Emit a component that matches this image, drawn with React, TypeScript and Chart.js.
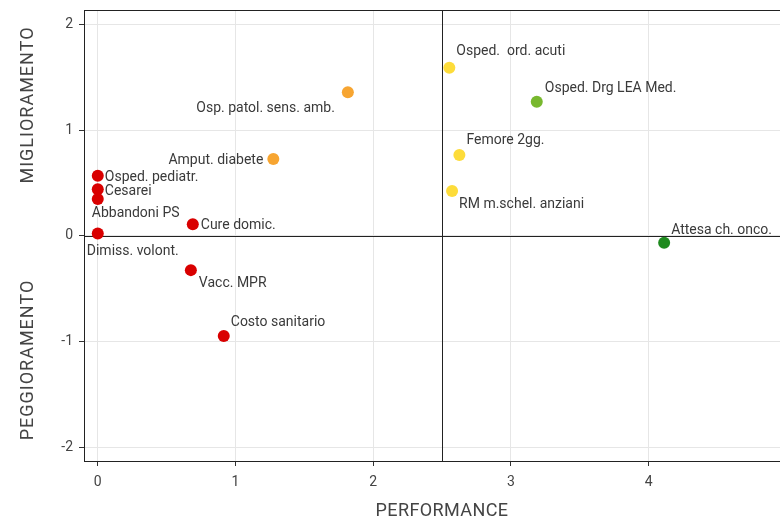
import React, { useEffect, useRef } from "react";
import { Chart, registerables } from "chart.js";

Chart.register(...registerables);

const indicatorNames = [
  "Osped. pediatr.",
  "Cesarei",
  "Abbandoni PS",
  "Dimiss. volont.",
  "Cure domic.",
  "Vacc. MPR",
  "Costo sanitario",
  "Amput. diabete",
  "Osp. patol. sens. amb.",
  "Osped.  ord. acuti",
  "Osped. Drg LEA Med.",
  "Femore 2gg.",
  "RM m.schel. anziani",
  "Attesa ch. onco.",
];
const performanceValues = [0, 0, 0, 0, 0.69, 0.676, 0.915, 1.275, 1.816, 2.553, 3.188, 2.626, 2.573, 4.113];
const trendValues = [0.568, 0.439, 0.347, 0.021, 0.108, -0.325, -0.949, 0.726, 1.357, 1.589, 1.268, 0.763, 0.423, -0.066];
const pointColors = [
  "#d90000", "#d90000", "#d90000", "#d90000", "#d90000", "#d90000", "#d90000",
  "#f7a531", "#f7a531",
  "#fddc3a", "#78b82e", "#fddc3a", "#fddc3a",
  "#1e8a1e",
];
const xTicks = [0, 1, 2, 3, 4];
const yTicks = [-2, -1, 0, 1, 2];
const xThreshold = 2.5;
const yThreshold = 0;
const xTitle = "PERFORMANCE";
const yTitleTop = "MIGLIORAMENTO";
const yTitleBottom = "PEGGIORAMENTO";

// label placement: [dx, dy, align]
const labelPlacement: [number, number, CanvasTextAlign][] = [
  [7, 0, "left"],
  [7, 1, "left"],
  [-6, 13, "left"],
  [-11, 16, "left"],
  [8, 0, "left"],
  [8, 12, "left"],
  [7, -15, "left"],
  [-10, 0, "right"],
  [-13, 15, "right"],
  [7, -18, "left"],
  [8, -15, "left"],
  [7, -16, "left"],
  [7, 12, "left"],
  [7, -14, "left"],
];

const FONT = "Roboto, 'DejaVu Sans', sans-serif";

const quadrantPlugin = {
  id: "quadrant",
  beforeDatasetsDraw(chart: any) {
    const { ctx, chartArea, scales } = chart;
    ctx.save();
    ctx.strokeStyle = "#222";
    ctx.lineWidth = 1;
    const vx = Math.round(scales.x.getPixelForValue(xThreshold)) + 0.5;
    const hy = Math.round(scales.y.getPixelForValue(yThreshold)) + 0.5;
    ctx.beginPath();
    ctx.moveTo(vx, chartArea.top);
    ctx.lineTo(vx, chartArea.bottom);
    ctx.moveTo(chartArea.left, hy);
    ctx.lineTo(chartArea.right, hy);
    ctx.stroke();
    ctx.strokeRect(
      Math.round(chartArea.left) + 0.5,
      Math.round(chartArea.top) + 0.5,
      Math.round(chartArea.right - chartArea.left),
      Math.round(chartArea.bottom - chartArea.top)
    );
    ctx.restore();
  },
  afterDatasetsDraw(chart: any) {
    const { ctx } = chart;
    const meta = chart.getDatasetMeta(0);
    ctx.save();
    ctx.font = `14px ${FONT}`;
    ctx.fillStyle = "#3a3a3a";
    ctx.textBaseline = "middle";
    meta.data.forEach((el: any, i: number) => {
      const [dx, dy, align] = labelPlacement[i];
      ctx.textAlign = align;
      ctx.fillText(indicatorNames[i], el.x + dx, el.y + dy + 1.5);
    });
    ctx.fillStyle = "#444";
    ctx.font = `18px ${FONT}`;
    ctx.textAlign = "center";
    (ctx as any).letterSpacing = "0.4px";
    ctx.fillText(xTitle, 442, 511);
    (ctx as any).letterSpacing = "1px";
    ctx.save();
    ctx.translate(28, 105);
    ctx.rotate(-Math.PI / 2);
    ctx.fillText(yTitleTop, 0, 0);
    ctx.restore();
    ctx.save();
    ctx.translate(28, 360);
    ctx.rotate(-Math.PI / 2);
    ctx.fillText(yTitleBottom, 0, 0);
    ctx.restore();
    (ctx as any).letterSpacing = "0px";
    ctx.restore();
  },
};

const zeroPadding = (s: any) => {
  s.paddingTop = 0;
  s.paddingBottom = 0;
  s.paddingLeft = 0;
  s.paddingRight = 0;
};

export default function App() {
  const canvasRef = useRef<HTMLCanvasElement | null>(null);

  useEffect(() => {
    if (!canvasRef.current) return;
    const chart = new Chart(canvasRef.current, {
      type: "scatter",
      data: {
        datasets: [
          {
            data: performanceValues.map((x, i) => ({ x, y: trendValues[i] })),
            backgroundColor: pointColors,
            borderColor: pointColors,
            borderWidth: 0,
            pointRadius: 6,
          },
        ],
      },
      options: {
        responsive: false,
        devicePixelRatio: 1,
        animation: false,
        layout: { padding: { top: 10, right: 0, left: 0, bottom: 0 } },
        plugins: { legend: { display: false }, tooltip: { enabled: false } },
        scales: {
          x: {
            type: "linear",
            min: -0.1,
            max: 5.056,
            afterBuildTicks: (s: any) => {
              s.ticks = xTicks.map((v) => ({ value: v }));
            },
            afterFit: (s: any) => {
              s.height = 56;
              zeroPadding(s);
            },
            grid: { color: "#e6e6e6", lineWidth: 1, tickColor: "#333", tickLength: 5 },
            border: { display: false },
            ticks: { color: "#444", font: { family: FONT, size: 14 }, padding: 8 },
          },
          y: {
            type: "linear",
            min: -2.13,
            max: 2.135,
            afterBuildTicks: (s: any) => {
              s.ticks = yTicks.map((v) => ({ value: v }));
            },
            afterFit: (s: any) => {
              s.width = 84;
              zeroPadding(s);
            },
            grid: { color: "#e6e6e6", lineWidth: 1, tickColor: "#333", tickLength: 5 },
            border: { display: false },
            ticks: { color: "#444", font: { family: FONT, size: 14 }, padding: 6 },
          },
        },
      },
      plugins: [quadrantPlugin],
    });
    return () => chart.destroy();
  }, []);

  return (
    <div style={{ position: "absolute", left: 0, top: 0, width: 780, height: 517, overflow: "hidden", background: "#fff" }}>
      <canvas ref={canvasRef} width={800} height={517} style={{ width: 800, height: 517, display: "block" }} />
    </div>
  );
}
